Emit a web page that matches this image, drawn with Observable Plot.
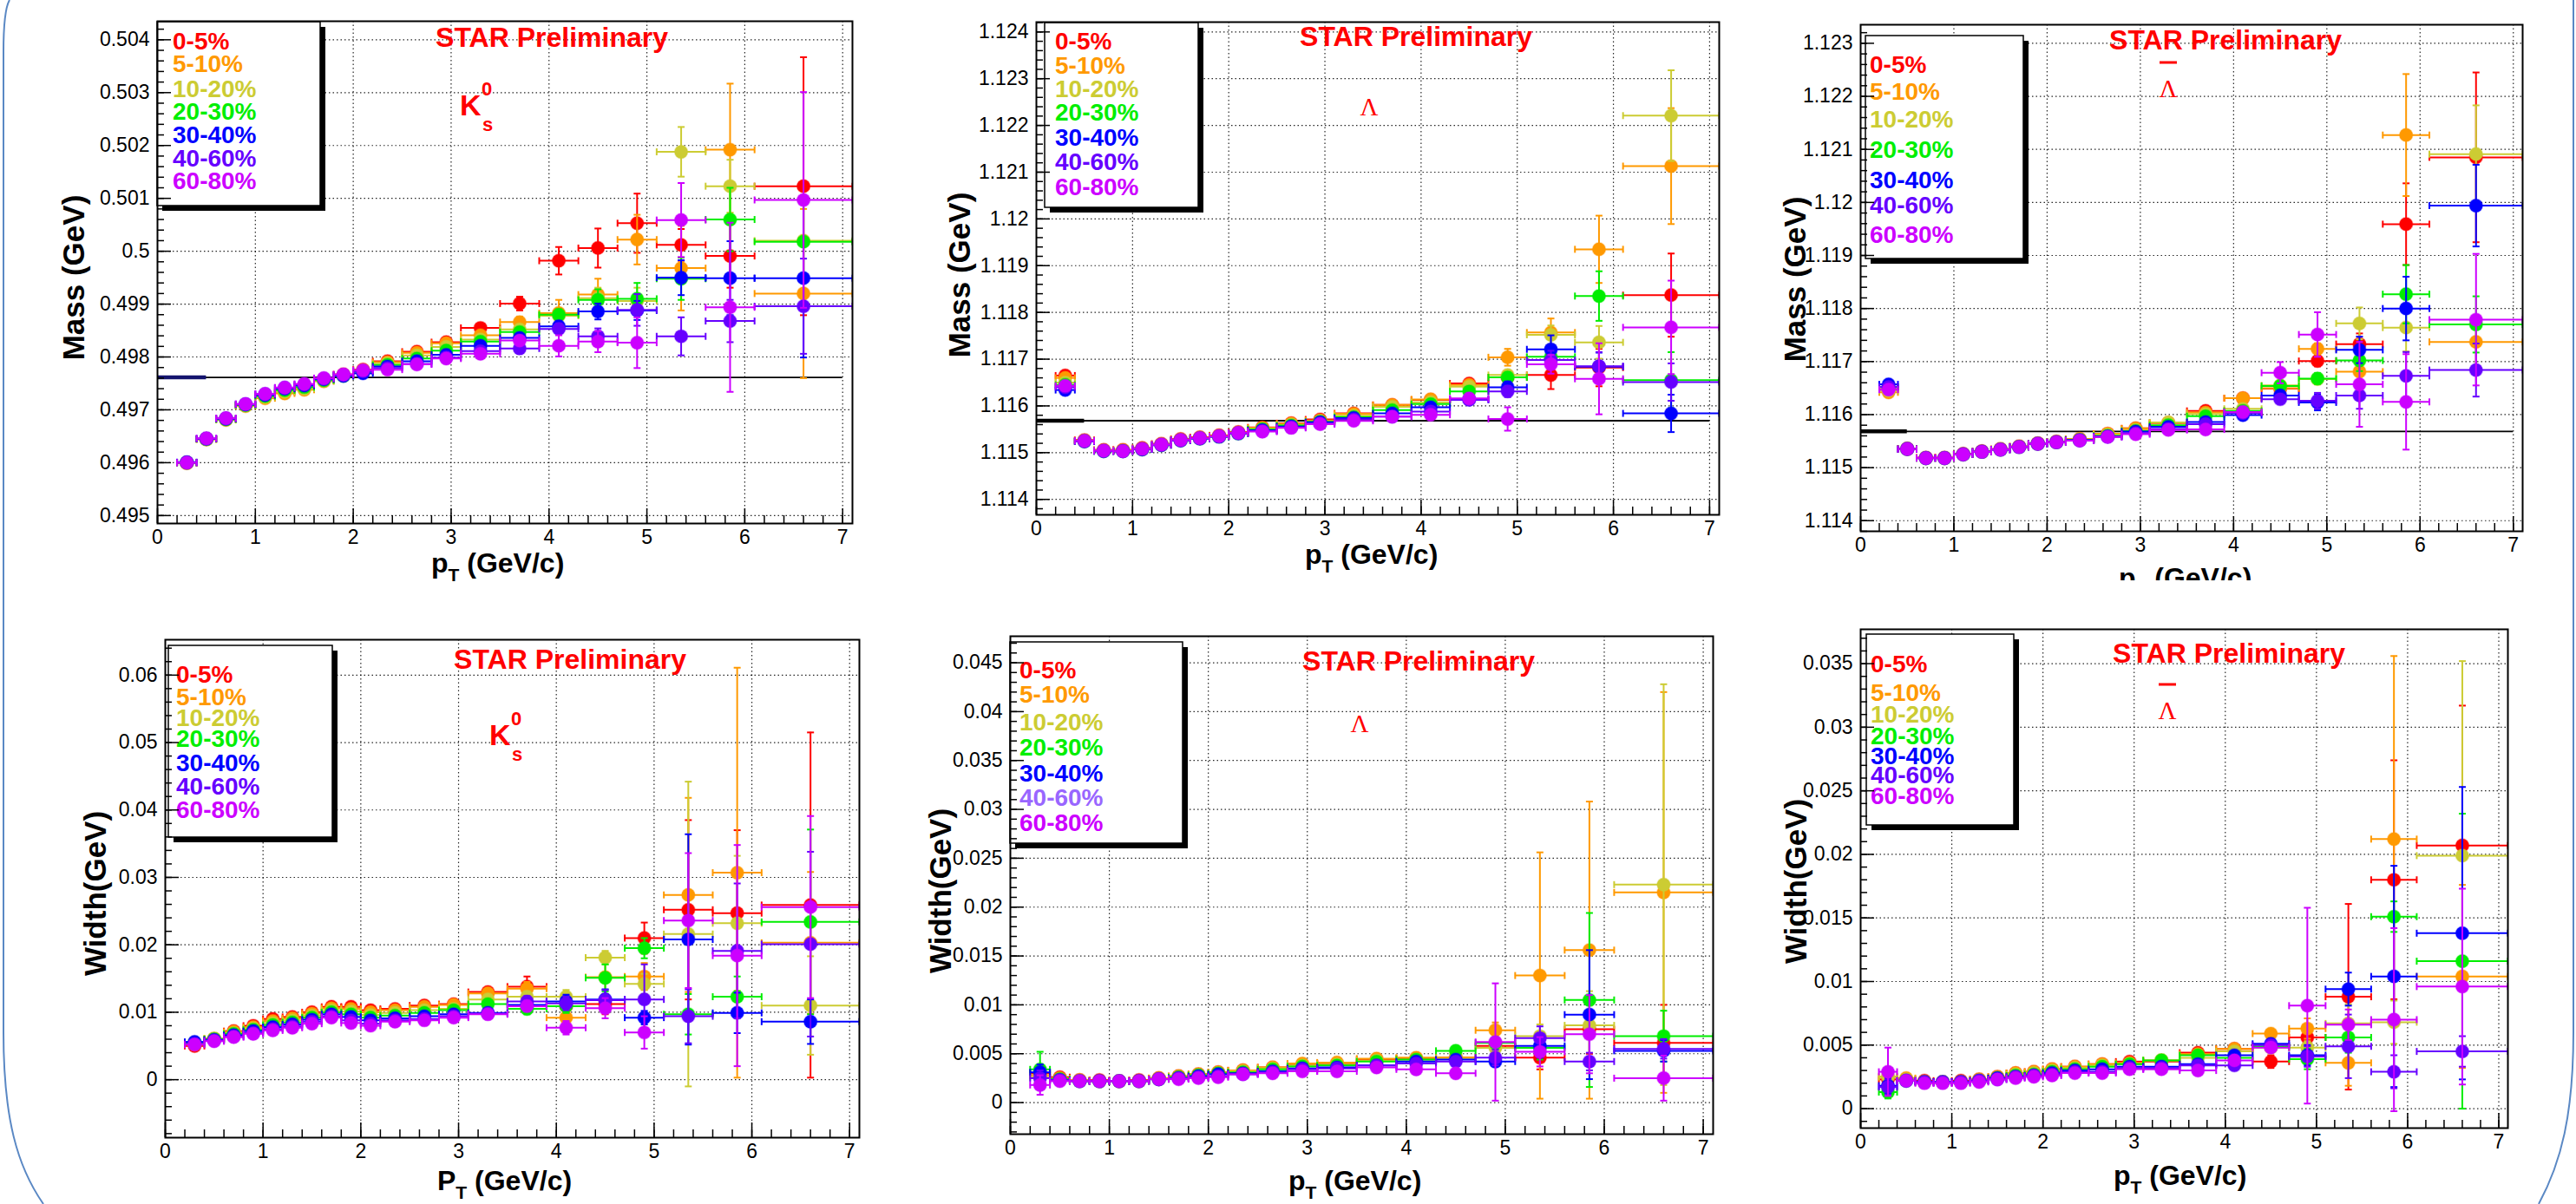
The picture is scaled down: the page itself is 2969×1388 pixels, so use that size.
<!DOCTYPE html>
<html><head><meta charset="utf-8">
<script src="https://cdn.jsdelivr.net/npm/d3@7"></script>
<script src="https://cdn.jsdelivr.net/npm/@observablehq/plot@0.6"></script>
<style>
html,body{margin:0;padding:0;background:#fff;}
#page{position:relative;width:2969px;height:1388px;overflow:hidden;background:#fff;font-family:"Liberation Sans",Arial,sans-serif;}
#page svg{display:block;}
</style></head>
<body><div id="page"></div>
<script>
// ---------------- DATA ----------------
const centralities = ["0-5%","5-10%","10-20%","20-30%","30-40%","40-60%","60-80%"];
const ptCenters = [0.3,0.5,0.7,0.9,1.1,1.3,1.5,1.7,1.9,2.1,2.35,2.65,2.95,3.3,3.7,4.1,4.5,4.9,5.35,5.85,6.6];
const ptLow     = [0.2,0.4,0.6,0.8,1.0,1.2,1.4,1.6,1.8,2.0,2.2,2.5,2.8,3.1,3.5,3.9,4.3,4.7,5.1,5.6,6.1];
const ptHigh    = [0.4,0.6,0.8,1.0,1.2,1.4,1.6,1.8,2.0,2.2,2.5,2.8,3.1,3.5,3.9,4.3,4.7,5.1,5.6,6.1,7.1];
const ptTicks = [0,1,2,3,4,5,6,7];
const k0sMassTicks = [0.495,0.496,0.497,0.498,0.499,0.500,0.501,0.502,0.503,0.504];
const lamMassTicks = [1.114,1.115,1.116,1.117,1.118,1.119,1.120,1.121,1.122,1.123,1.124];
const alamMassTicks = [1.114,1.115,1.116,1.117,1.118,1.119,1.120,1.121,1.122,1.123];
const k0sWidthTicks = [0,0.01,0.02,0.03,0.04,0.05,0.06];
const lamWidthTicks = [0,0.005,0.01,0.015,0.02,0.025,0.03,0.035,0.04,0.045];
const alamWidthTicks = [0,0.005,0.01,0.015,0.02,0.025,0.03,0.035];
const k0sPdgMass = 0.497614;
const lamPdgMass = 1.115683;
const pdgLineRange = [0, 7];
const pdgStubRange = [0, 0.5];

// K0s mass (GeV), rows = centralities
const k0sMassVal = [
 [0.49600,0.49645,0.49683,0.49709,0.49725,0.49734,0.49741,0.49757,0.49767,0.49776,0.49792,0.49810,0.49828,0.49855,0.49901,0.49982,0.50006,0.50053,0.50012,0.49991,0.50123],
 [0.49599,0.49644,0.49681,0.49707,0.49722,0.49731,0.49738,0.49754,0.49765,0.49775,0.49790,0.49808,0.49826,0.49841,0.49866,0.49883,0.49918,0.50022,0.49968,0.50192,0.49920],
 [0.49600,0.49644,0.49682,0.49708,0.49724,0.49734,0.49740,0.49755,0.49765,0.49774,0.49788,0.49803,0.49819,0.49833,0.49852,0.49878,0.49911,0.49906,0.50188,0.50123,0.50020],
 [0.49600,0.49645,0.49682,0.49709,0.49726,0.49737,0.49743,0.49756,0.49764,0.49772,0.49785,0.49797,0.49812,0.49829,0.49847,0.49880,0.49908,0.49910,0.49948,0.50060,0.50018],
 [0.49601,0.49645,0.49683,0.49710,0.49728,0.49740,0.49746,0.49758,0.49764,0.49769,0.49782,0.49792,0.49804,0.49821,0.49836,0.49858,0.49886,0.49888,0.49950,0.49949,0.49949],
 [0.49600,0.49646,0.49684,0.49711,0.49730,0.49742,0.49748,0.49759,0.49766,0.49773,0.49779,0.49787,0.49799,0.49811,0.49816,0.49853,0.49839,0.49889,0.49839,0.49868,0.49896],
 [0.49600,0.49646,0.49684,0.49711,0.49730,0.49742,0.49749,0.49760,0.49767,0.49775,0.49776,0.49786,0.49797,0.49806,0.49831,0.49821,0.49829,0.49827,0.50059,0.49894,0.50097]
];
const k0sMassErr = [
 [0.00001,0.00001,0.00001,0.00001,0.00001,0.00001,0.00001,0.00001,0.00001,0.00002,0.00002,0.00003,0.00004,0.00006,0.00013,0.00026,0.00037,0.00056,0.00030,0.00060,0.00244],
 [0.00001,0.00001,0.00001,0.00001,0.00001,0.00001,0.00001,0.00001,0.00001,0.00002,0.00002,0.00003,0.00004,0.00006,0.00010,0.00025,0.00030,0.00047,0.00080,0.00125,0.00160],
 [0.00001,0.00001,0.00001,0.00001,0.00001,0.00001,0.00001,0.00001,0.00001,0.00002,0.00002,0.00003,0.00004,0.00005,0.00008,0.00010,0.00020,0.00025,0.00047,0.00050,0.00070],
 [0.00001,0.00001,0.00001,0.00001,0.00001,0.00001,0.00001,0.00001,0.00001,0.00002,0.00002,0.00003,0.00004,0.00005,0.00008,0.00010,0.00020,0.00030,0.00040,0.00060,0.00070],
 [0.00001,0.00001,0.00001,0.00001,0.00001,0.00001,0.00001,0.00001,0.00001,0.00002,0.00002,0.00003,0.00004,0.00005,0.00008,0.00010,0.00015,0.00018,0.00033,0.00070,0.00150],
 [0.00001,0.00001,0.00001,0.00001,0.00001,0.00001,0.00001,0.00001,0.00001,0.00002,0.00002,0.00003,0.00004,0.00005,0.00008,0.00010,0.00015,0.00030,0.00036,0.00040,0.00090],
 [0.00001,0.00001,0.00001,0.00001,0.00001,0.00001,0.00001,0.00001,0.00001,0.00002,0.00002,0.00003,0.00004,0.00005,0.00008,0.00020,0.00020,0.00048,0.00070,0.00160,0.00204]
];

// Lambda mass (GeV)
const lamMassVal = [
 [1.11665,1.11527,1.11506,1.11506,1.11510,1.11519,1.11529,1.11533,1.11537,1.11544,1.11554,1.11563,1.11571,1.11584,1.11602,1.11613,1.11648,1.11661,1.11666,1.11682,1.11837],
 [1.11660,1.11526,1.11505,1.11505,1.11509,1.11518,1.11528,1.11532,1.11536,1.11543,1.11553,1.11562,1.11569,1.11583,1.11602,1.11614,1.11645,1.11704,1.11757,1.11935,1.12113],
 [1.11650,1.11525,1.11504,1.11504,1.11508,1.11517,1.11527,1.11531,1.11535,1.11542,1.11551,1.11560,1.11567,1.11579,1.11598,1.11608,1.11641,1.11666,1.11752,1.11736,1.12221],
 [1.11645,1.11524,1.11503,1.11503,1.11507,1.11516,1.11526,1.11530,1.11534,1.11541,1.11550,1.11558,1.11566,1.11576,1.11591,1.11604,1.11631,1.11661,1.11705,1.11835,1.11655],
 [1.11634,1.11524,1.11503,1.11503,1.11507,1.11516,1.11526,1.11530,1.11534,1.11541,1.11548,1.11556,1.11565,1.11574,1.11584,1.11597,1.11614,1.11640,1.11721,1.11684,1.11584],
 [1.11640,1.11525,1.11504,1.11503,1.11508,1.11517,1.11527,1.11531,1.11535,1.11542,1.11546,1.11554,1.11562,1.11571,1.11577,1.11588,1.11613,1.11631,1.11698,1.11685,1.11651],
 [1.11643,1.11525,1.11504,1.11503,1.11508,1.11517,1.11527,1.11531,1.11535,1.11542,1.11545,1.11553,1.11561,1.11568,1.11577,1.11581,1.11616,1.11572,1.11689,1.11658,1.11768]
];
const lamMassErr = [
 [0.00003,0.00001,0.00001,0.00001,0.00001,0.00001,0.00001,0.00001,0.00001,0.00001,0.00002,0.00002,0.00003,0.00004,0.00005,0.00006,0.00006,0.00010,0.00030,0.00040,0.00089],
 [0.00003,0.00001,0.00001,0.00001,0.00001,0.00001,0.00001,0.00001,0.00001,0.00001,0.00002,0.00002,0.00003,0.00004,0.00005,0.00006,0.00006,0.00018,0.00030,0.00072,0.00124],
 [0.00003,0.00001,0.00001,0.00001,0.00001,0.00001,0.00001,0.00001,0.00001,0.00001,0.00002,0.00002,0.00003,0.00004,0.00005,0.00006,0.00006,0.00010,0.00020,0.00035,0.00097],
 [0.00003,0.00001,0.00001,0.00001,0.00001,0.00001,0.00001,0.00001,0.00001,0.00001,0.00002,0.00002,0.00003,0.00004,0.00005,0.00006,0.00006,0.00010,0.00025,0.00053,0.00060],
 [0.00003,0.00001,0.00001,0.00001,0.00001,0.00001,0.00001,0.00001,0.00001,0.00001,0.00002,0.00002,0.00003,0.00004,0.00005,0.00006,0.00007,0.00012,0.00030,0.00030,0.00040],
 [0.00003,0.00001,0.00001,0.00001,0.00001,0.00001,0.00001,0.00001,0.00001,0.00001,0.00002,0.00002,0.00003,0.00004,0.00005,0.00006,0.00007,0.00012,0.00020,0.00030,0.00040],
 [0.00003,0.00001,0.00001,0.00001,0.00001,0.00001,0.00001,0.00001,0.00001,0.00001,0.00002,0.00002,0.00003,0.00004,0.00005,0.00006,0.00007,0.00025,0.00020,0.00076,0.00100]
];

// anti-Lambda mass (GeV)
const alamMassVal = [
 [1.11648,1.11536,1.11519,1.11519,1.11526,1.11531,1.11535,1.11540,1.11546,1.11549,1.11554,1.11564,1.11574,1.11584,1.11607,1.11631,1.11649,1.11701,1.11733,1.11959,1.12085],
 [1.11642,1.11535,1.11518,1.11518,1.11525,1.11530,1.11535,1.11540,1.11546,1.11549,1.11554,1.11564,1.11574,1.11585,1.11604,1.11631,1.11650,1.11724,1.11681,1.12127,1.11737],
 [1.11645,1.11535,1.11518,1.11518,1.11525,1.11530,1.11534,1.11539,1.11545,1.11548,1.11553,1.11562,1.11571,1.11585,1.11601,1.11611,1.11655,1.11667,1.11772,1.11764,1.12091],
 [1.11652,1.11535,1.11518,1.11518,1.11525,1.11530,1.11534,1.11539,1.11545,1.11548,1.11552,1.11560,1.11569,1.11580,1.11597,1.11607,1.11654,1.11668,1.11702,1.11827,1.11770],
 [1.11657,1.11535,1.11518,1.11518,1.11525,1.11530,1.11534,1.11539,1.11545,1.11548,1.11552,1.11559,1.11568,1.11577,1.11586,1.11599,1.11636,1.11623,1.11722,1.11800,1.11994],
 [1.11652,1.11535,1.11518,1.11518,1.11525,1.11530,1.11534,1.11539,1.11545,1.11548,1.11551,1.11558,1.11565,1.11573,1.11582,1.11603,1.11629,1.11626,1.11636,1.11673,1.11684],
 [1.11647,1.11535,1.11518,1.11518,1.11525,1.11530,1.11534,1.11539,1.11545,1.11548,1.11551,1.11558,1.11563,1.11571,1.11572,1.11605,1.11679,1.11751,1.11657,1.11624,1.11779]
];
const alamMassErr = [
 [0.00003,0.00001,0.00001,0.00001,0.00001,0.00001,0.00001,0.00001,0.00001,0.00001,0.00002,0.00002,0.00003,0.00004,0.00005,0.00005,0.00005,0.00010,0.00020,0.00077,0.00160],
 [0.00003,0.00001,0.00001,0.00001,0.00001,0.00001,0.00001,0.00001,0.00001,0.00001,0.00002,0.00002,0.00003,0.00004,0.00005,0.00005,0.00006,0.00010,0.00020,0.00115,0.00050],
 [0.00003,0.00001,0.00001,0.00001,0.00001,0.00001,0.00001,0.00001,0.00001,0.00001,0.00002,0.00002,0.00003,0.00004,0.00005,0.00006,0.00006,0.00010,0.00030,0.00045,0.00092],
 [0.00003,0.00001,0.00001,0.00001,0.00001,0.00001,0.00001,0.00001,0.00001,0.00001,0.00002,0.00002,0.00003,0.00004,0.00005,0.00006,0.00006,0.00010,0.00020,0.00055,0.00053],
 [0.00003,0.00001,0.00001,0.00001,0.00001,0.00001,0.00001,0.00001,0.00001,0.00001,0.00002,0.00002,0.00003,0.00004,0.00005,0.00006,0.00007,0.00015,0.00025,0.00060,0.00077],
 [0.00003,0.00001,0.00001,0.00001,0.00001,0.00001,0.00001,0.00001,0.00001,0.00001,0.00002,0.00002,0.00003,0.00004,0.00005,0.00006,0.00007,0.00015,0.00025,0.00045,0.00050],
 [0.00003,0.00001,0.00001,0.00001,0.00001,0.00001,0.00001,0.00001,0.00001,0.00001,0.00002,0.00002,0.00003,0.00004,0.00005,0.00006,0.00020,0.00042,0.00080,0.00090,0.00124]
];

// K0s width (GeV)
const k0sWidthVal = [
 [0.0050,0.0060,0.0072,0.0080,0.0090,0.0093,0.0100,0.0108,0.0108,0.0103,0.0105,0.0110,0.0112,0.0130,0.0138,0.0109,0.0112,0.0210,0.0252,0.0247,0.0259],
 [0.0052,0.0061,0.0071,0.0078,0.0087,0.0091,0.0098,0.0106,0.0105,0.0100,0.0103,0.0108,0.0111,0.0128,0.0135,0.0092,0.0152,0.0153,0.0274,0.0307,0.0203],
 [0.0054,0.0061,0.0069,0.0076,0.0084,0.0088,0.0095,0.0103,0.0101,0.0096,0.0099,0.0103,0.0105,0.0119,0.0123,0.0123,0.0181,0.0142,0.0216,0.0232,0.0110],
 [0.0055,0.0060,0.0068,0.0074,0.0081,0.0085,0.0092,0.0100,0.0097,0.0092,0.0095,0.0099,0.0103,0.0112,0.0105,0.0109,0.0151,0.0195,0.0097,0.0123,0.0234],
 [0.0056,0.0059,0.0066,0.0072,0.0078,0.0082,0.0089,0.0097,0.0093,0.0088,0.0091,0.0094,0.0097,0.0099,0.0111,0.0116,0.0119,0.0092,0.0208,0.0099,0.0086],
 [0.0053,0.0058,0.0064,0.0069,0.0075,0.0079,0.0086,0.0094,0.0088,0.0083,0.0088,0.0090,0.0094,0.0098,0.0116,0.0113,0.0118,0.0119,0.0094,0.0191,0.0201],
 [0.0052,0.0057,0.0063,0.0068,0.0073,0.0077,0.0083,0.0092,0.0084,0.0080,0.0086,0.0088,0.0092,0.0097,0.0109,0.0077,0.0106,0.0070,0.0236,0.0184,0.0256]
];
const k0sWidthErr = [
 [0.0002,0.0002,0.0002,0.0002,0.0002,0.0002,0.0002,0.0002,0.0002,0.0002,0.0003,0.0003,0.0004,0.0005,0.0015,0.0015,0.0015,0.0023,0.0133,0.0123,0.0256],
 [0.0002,0.0002,0.0002,0.0002,0.0002,0.0002,0.0002,0.0002,0.0002,0.0002,0.0003,0.0003,0.0004,0.0005,0.0010,0.0015,0.0025,0.0020,0.0144,0.0304,0.0105],
 [0.0002,0.0002,0.0002,0.0002,0.0002,0.0002,0.0002,0.0002,0.0002,0.0002,0.0003,0.0003,0.0004,0.0005,0.0008,0.0010,0.0010,0.0015,0.0226,0.0100,0.0073],
 [0.0002,0.0002,0.0002,0.0002,0.0002,0.0002,0.0002,0.0002,0.0002,0.0002,0.0003,0.0003,0.0004,0.0005,0.0008,0.0010,0.0020,0.0015,0.0030,0.0030,0.0137],
 [0.0002,0.0002,0.0002,0.0002,0.0002,0.0002,0.0002,0.0002,0.0002,0.0002,0.0003,0.0003,0.0004,0.0005,0.0008,0.0010,0.0015,0.0010,0.0156,0.0030,0.0033],
 [0.0002,0.0002,0.0002,0.0002,0.0002,0.0002,0.0002,0.0002,0.0002,0.0002,0.0003,0.0003,0.0004,0.0005,0.0008,0.0010,0.0015,0.0052,0.0040,0.0100,0.0137],
 [0.0002,0.0002,0.0002,0.0002,0.0002,0.0002,0.0002,0.0002,0.0002,0.0002,0.0003,0.0003,0.0004,0.0005,0.0008,0.0010,0.0015,0.0024,0.0100,0.0164,0.0135]
];

// Lambda width (GeV)
const lamWidthVal = [
 [0.0030,0.0026,0.0023,0.0023,0.0022,0.0023,0.0025,0.0027,0.0029,0.0031,0.0033,0.0036,0.0039,0.0040,0.0044,0.0045,0.0046,0.0058,0.0046,0.0075,0.0061],
 [0.0028,0.0025,0.0023,0.0022,0.0022,0.0022,0.0025,0.0027,0.0029,0.0031,0.0033,0.0036,0.0040,0.0041,0.0045,0.0046,0.0046,0.0074,0.0130,0.0156,0.0215],
 [0.0026,0.0024,0.0022,0.0022,0.0022,0.0022,0.0024,0.0026,0.0028,0.0030,0.0032,0.0035,0.0038,0.0039,0.0043,0.0044,0.0045,0.0056,0.0068,0.0079,0.0223],
 [0.0034,0.0024,0.0022,0.0022,0.0022,0.0022,0.0024,0.0026,0.0028,0.0030,0.0031,0.0034,0.0037,0.0038,0.0042,0.0044,0.0053,0.0061,0.0056,0.0105,0.0068],
 [0.0031,0.0023,0.0022,0.0022,0.0022,0.0022,0.0024,0.0025,0.0027,0.0029,0.0030,0.0032,0.0035,0.0036,0.0038,0.0042,0.0044,0.0042,0.0058,0.0090,0.0053],
 [0.0025,0.0023,0.0022,0.0022,0.0022,0.0022,0.0024,0.0025,0.0026,0.0027,0.0029,0.0031,0.0034,0.0035,0.0038,0.0040,0.0042,0.0046,0.0066,0.0042,0.0055],
 [0.0018,0.0022,0.0022,0.0022,0.0022,0.0022,0.0024,0.0024,0.0025,0.0026,0.0029,0.0030,0.0032,0.0032,0.0036,0.0034,0.0030,0.0062,0.0052,0.0070,0.0025]
];
const lamWidthErr = [
 [0.0008,0.0002,0.0001,0.0001,0.0001,0.0001,0.0001,0.0001,0.0001,0.0001,0.0001,0.0001,0.0002,0.0002,0.0002,0.0002,0.0003,0.0005,0.0012,0.0025,0.0039],
 [0.0008,0.0002,0.0001,0.0001,0.0001,0.0001,0.0001,0.0001,0.0001,0.0001,0.0001,0.0001,0.0002,0.0002,0.0002,0.0002,0.0003,0.0008,0.0126,0.0152,0.0205],
 [0.0008,0.0002,0.0001,0.0001,0.0001,0.0001,0.0001,0.0001,0.0001,0.0001,0.0001,0.0001,0.0002,0.0002,0.0002,0.0002,0.0003,0.0006,0.0012,0.0035,0.0205],
 [0.0018,0.0002,0.0001,0.0001,0.0001,0.0001,0.0001,0.0001,0.0001,0.0001,0.0001,0.0001,0.0002,0.0002,0.0002,0.0002,0.0003,0.0006,0.0012,0.0089,0.0026],
 [0.0008,0.0002,0.0001,0.0001,0.0001,0.0001,0.0001,0.0001,0.0001,0.0001,0.0001,0.0001,0.0002,0.0002,0.0002,0.0002,0.0003,0.0005,0.0012,0.0066,0.0011],
 [0.0008,0.0002,0.0001,0.0001,0.0001,0.0001,0.0001,0.0001,0.0001,0.0001,0.0001,0.0001,0.0002,0.0002,0.0002,0.0002,0.0003,0.0008,0.0012,0.0009,0.0010],
 [0.0010,0.0002,0.0001,0.0001,0.0001,0.0001,0.0001,0.0001,0.0001,0.0001,0.0001,0.0001,0.0002,0.0002,0.0002,0.0002,0.0004,0.0060,0.0015,0.0040,0.0023]
];

// anti-Lambda width (GeV)
const alamWidthVal = [
 [0.0023,0.0023,0.0022,0.0021,0.0022,0.0023,0.0025,0.0028,0.0029,0.0031,0.0033,0.0035,0.0037,0.0037,0.0044,0.0047,0.0037,0.0056,0.0088,0.0180,0.0207],
 [0.0025,0.0024,0.0021,0.0021,0.0021,0.0023,0.0025,0.0028,0.0029,0.0031,0.0033,0.0035,0.0036,0.0038,0.0043,0.0047,0.0059,0.0063,0.0036,0.0212,0.0104],
 [0.0025,0.0023,0.0021,0.0021,0.0021,0.0022,0.0024,0.0027,0.0028,0.0030,0.0032,0.0034,0.0035,0.0038,0.0040,0.0045,0.0048,0.0048,0.0067,0.0068,0.0199],
 [0.0013,0.0022,0.0021,0.0021,0.0021,0.0022,0.0024,0.0026,0.0027,0.0029,0.0031,0.0033,0.0035,0.0038,0.0042,0.0040,0.0049,0.0039,0.0056,0.0151,0.0116],
 [0.0018,0.0022,0.0021,0.0021,0.0021,0.0022,0.0024,0.0025,0.0026,0.0028,0.0030,0.0031,0.0033,0.0033,0.0035,0.0042,0.0051,0.0042,0.0094,0.0104,0.0138],
 [0.0017,0.0022,0.0021,0.0021,0.0021,0.0022,0.0023,0.0025,0.0026,0.0027,0.0029,0.0029,0.0032,0.0032,0.0034,0.0034,0.0050,0.0041,0.0049,0.0029,0.0045],
 [0.0029,0.0022,0.0020,0.0020,0.0020,0.0021,0.0023,0.0024,0.0025,0.0026,0.0028,0.0028,0.0031,0.0031,0.0030,0.0038,0.0048,0.0081,0.0066,0.0070,0.0096]
];
const alamWidthErr = [
 [0.0005,0.0002,0.0001,0.0001,0.0001,0.0001,0.0001,0.0001,0.0001,0.0001,0.0001,0.0001,0.0002,0.0002,0.0002,0.0002,0.0005,0.0005,0.0073,0.0094,0.0110],
 [0.0005,0.0002,0.0001,0.0001,0.0001,0.0001,0.0001,0.0001,0.0001,0.0001,0.0001,0.0001,0.0002,0.0002,0.0002,0.0002,0.0003,0.0008,0.0018,0.0144,0.0072],
 [0.0005,0.0002,0.0001,0.0001,0.0001,0.0001,0.0001,0.0001,0.0001,0.0001,0.0001,0.0001,0.0002,0.0002,0.0002,0.0002,0.0003,0.0005,0.0015,0.0017,0.0153],
 [0.0005,0.0002,0.0001,0.0001,0.0001,0.0001,0.0001,0.0001,0.0001,0.0001,0.0001,0.0001,0.0002,0.0002,0.0002,0.0002,0.0003,0.0008,0.0012,0.0012,0.0116],
 [0.0006,0.0002,0.0001,0.0001,0.0001,0.0001,0.0001,0.0001,0.0001,0.0001,0.0001,0.0001,0.0002,0.0002,0.0002,0.0002,0.0003,0.0008,0.0013,0.0087,0.0115],
 [0.0006,0.0002,0.0001,0.0001,0.0001,0.0001,0.0001,0.0001,0.0001,0.0001,0.0001,0.0001,0.0002,0.0002,0.0002,0.0002,0.0003,0.0008,0.0025,0.0013,0.0012],
 [0.0019,0.0002,0.0001,0.0001,0.0001,0.0001,0.0001,0.0001,0.0001,0.0001,0.0001,0.0001,0.0002,0.0002,0.0002,0.0002,0.0003,0.0077,0.0012,0.0072,0.0077]
];

// ---------------- STYLE ----------------
const colors = ["#ff0000","#ff9900","#cccc33","#00ee00","#0000ff","#6600ff","#cc00ff"];
const xDomain = [0, 7.1];
const hCap = {draw(ctx, size){ const r = Math.sqrt(size/Math.PI); ctx.moveTo(-r,0); ctx.lineTo(r,0); }};
const vCap = {draw(ctx, size){ const r = Math.sqrt(size/Math.PI); ctx.moveTo(0,-r); ctx.lineTo(0,r); }};
const fmt = d => String(+d.toFixed(4));

const panels = [
 {vals:k0sMassVal, errs:k0sMassErr, ticks:k0sMassTicks, minor:0.0002, frame:[181,24,982,603], yDomain:[0.49485,0.50435], pdg:k0sPdgMass, stub:"#14146e"},
 {vals:lamMassVal, errs:lamMassErr, ticks:lamMassTicks, minor:0.0002, frame:[1194,25,1981,593], yDomain:[1.11367,1.12421], pdg:lamPdgMass, stub:"#000"},
 {vals:alamMassVal, errs:alamMassErr, ticks:alamMassTicks, minor:0.0002, frame:[2144,28,2907,612], yDomain:[1.11380,1.12335], pdg:lamPdgMass, stub:"#000"},
 {vals:k0sWidthVal, errs:k0sWidthErr, ticks:k0sWidthTicks, minor:0.002, frame:[190,737,990,1311], yDomain:[-0.0086,0.06525]},
 {vals:lamWidthVal, errs:lamWidthErr, ticks:lamWidthTicks, minor:0.001, frame:[1164,733,1974,1307], yDomain:[-0.00323,0.04771]},
 {vals:alamWidthVal, errs:alamWidthErr, ticks:alamWidthTicks, minor:0.001, frame:[2144,725,2890,1300], yDomain:[-0.00153,0.0377]}
];

const page = document.getElementById("page");
const ML = 85, MR = 6, MT = 6, MB = 45;
function place(node, left, top, w, h){
  const div = document.createElement("div");
  div.style.cssText = `position:absolute;left:${left}px;top:${top}px;width:${w}px;height:${h}px;`;
  div.appendChild(node); page.appendChild(div);
}
const plotStyle = {background:"none", maxWidth:"none", overflow:"visible", fontFamily:"'Liberation Sans', Arial, sans-serif", fontSize:"23px", color:"#000"};

// background decoration (slide border)
const bg = d3.select(page).append("svg").attr("width",2969).attr("height",1388).style("position","absolute").style("left","0px").style("top","0px");
bg.append("path").attr("d","M 11 0 Q 4 12 4 60 L 4 1190 C 4 1290 20 1345 50 1388").attr("fill","none").attr("stroke","#5a88c4").attr("stroke-width",2);
bg.append("path").attr("d","M 2966 0 L 2966 1190 C 2966 1285 2952 1340 2926 1388").attr("fill","none").attr("stroke","#5a88c4").attr("stroke-width",2);

const geo = [];
// base plots: grid, labels, data
panels.forEach((p) => {
  const [fx0, fy0, fx1, fy1] = p.frame;
  const W = fx1 - fx0 + ML + MR, H = fy1 - fy0 + MT + MB;
  geo.push({W, H, left: fx0 - ML, top: fy0 - MT});
  const marks = [
    Plot.gridX(ptTicks.filter(t => t > 0), {stroke:"#000", strokeOpacity:0.85, strokeWidth:1.2, strokeDasharray:"1.5,3"}),
    Plot.gridY(p.ticks, {stroke:"#000", strokeOpacity:0.85, strokeWidth:1.2, strokeDasharray:"1.5,3"}),
    Plot.axisX(ptTicks, {anchor:"bottom", tickSize:0, tickPadding:7, tickFormat: d => String(d), label:null}),
    Plot.axisY(p.ticks, {anchor:"left", tickSize:0, tickPadding:9, tickFormat: fmt, label:null})
  ];
  if (p.pdg !== undefined) {
    marks.push(Plot.ruleY([p.pdg], {x1: pdgLineRange[0], x2: pdgLineRange[1], stroke:"#000", strokeWidth:1.8}));
    marks.push(Plot.ruleY([p.pdg], {x1: pdgStubRange[0], x2: pdgStubRange[1], stroke:p.stub, strokeWidth:4.5}));
  }
  for (let s = 0; s < centralities.length; s++) {
    const d = ptCenters.map((x, i) => ({x, lo: ptLow[i], hi: ptHigh[i], v: p.vals[s][i], e: p.errs[s][i]}));
    const c = colors[s];
    marks.push(
      Plot.ruleY(d, {y:"v", x1:"lo", x2:"hi", stroke:c, strokeWidth:2, clip:true}),
      Plot.ruleX(d, {x:"x", y1: r => r.v - r.e, y2: r => r.v + r.e, stroke:c, strokeWidth:2, clip:true}),
      Plot.dot(d, {x:"x", y: r => r.v + r.e, symbol:hCap, r:4, stroke:c, strokeWidth:2, fill:"none", clip:true}),
      Plot.dot(d, {x:"x", y: r => r.v - r.e, symbol:hCap, r:4, stroke:c, strokeWidth:2, fill:"none", clip:true}),
      Plot.dot(d, {x:"lo", y:"v", symbol:vCap, r:4, stroke:c, strokeWidth:2, fill:"none", clip:true}),
      Plot.dot(d, {x:"hi", y:"v", symbol:vCap, r:4, stroke:c, strokeWidth:2, fill:"none", clip:true}),
      Plot.dot(d, {x:"x", y:"v", r:7.6, fill:c, stroke:c, strokeOpacity:0.35, strokeWidth:1.5, clip:true})
    );
  }
  const svg = Plot.plot({
    width: W, height: H, marginLeft: ML, marginRight: MR, marginTop: MT, marginBottom: MB,
    x: {domain: xDomain}, y: {domain: p.yDomain}, style: plotStyle, marks
  });
  place(svg, fx0 - ML, fy0 - MT, W, H);
});

// labels layer
const L = d3.select(page).append("svg").attr("width",2969).attr("height",1388).style("position","absolute").style("left","0px").style("top","0px")
  .style("font-family","'Liberation Sans', Arial, sans-serif");
L.append("clipPath").attr("id","cutP3").append("rect").attr("x",2300).attr("y",600).attr("width",400).attr("height",69);

const legends = [
 {box:[181,25,369,237], tx:199, cy:[47,73,102,128,155,182,208], cols:colors},
 {box:[1204,26,1381,239], tx:1216, cy:[47,75,102,129,158,186,215], cols:colors},
 {box:[2150,41,2332,298], tx:2155, cy:[74,105,137,172,207,236,270], cols:colors},
 {box:[194,744,383,965], tx:203, cy:[777,803,827,851,879,906,933], cols:colors},
 {box:[1164,740,1363,972], tx:1175, cy:[772,800,832,861,891,919,948], cols:["#ff0000","#ff9900","#cccc33","#00ee00","#0000ff","#9966ff","#cc00ff"]},
 {box:[2151,731,2321,951], tx:2156, cy:[765,798,823,848,871,893,917], cols:colors}
];
legends.forEach(lg => {
  const [x0,y0,x1,y1] = lg.box;
  L.append("rect").attr("x",x0+6).attr("y",y0+6).attr("width",x1-x0).attr("height",y1-y0).attr("fill","#000");
  L.append("rect").attr("x",x0).attr("y",y0).attr("width",x1-x0).attr("height",y1-y0).attr("fill","#fff").attr("stroke","#000").attr("stroke-width",1.5);
  centralities.forEach((t,i) => {
    L.append("text").attr("x",lg.tx).attr("y",lg.cy[i]+10).attr("font-size",28).attr("font-weight","bold").attr("fill",lg.cols[i]).text(t);
  });
});

// STAR Preliminary
[[636,54],[1632,53],[2565,57],[657,771],[1635,773],[2569,764]].forEach(([x,y]) => {
  L.append("text").attr("x",x).attr("y",y).attr("text-anchor","middle").attr("font-size",32).attr("font-weight","bold").attr("fill","#ff0000").text("STAR Preliminary");
});
// K0s labels
[[530,133],[564,859]].forEach(([x,y]) => {
  L.append("text").attr("x",x).attr("y",y).attr("font-size",34).attr("font-weight","bold").attr("fill","#ff0000").text("K");
  L.append("text").attr("x",x+25).attr("y",y-23).attr("font-size",22).attr("font-weight","bold").attr("fill","#ff0000").text("0");
  L.append("text").attr("x",x+26).attr("y",y+18).attr("font-size",22).attr("font-weight","bold").attr("fill","#ff0000").text("s");
});
// Lambda labels
[[1578,133],[1567,844]].forEach(([x,y]) => {
  L.append("text").attr("x",x).attr("y",y).attr("text-anchor","middle").attr("font-family","'Liberation Serif', 'Times New Roman', serif").attr("font-size",29).attr("fill","#ff0000").text("Λ");
});
// anti-Lambda labels
[[2499,112,72],[2498,829,789]].forEach(([x,y,by]) => {
  L.append("text").attr("x",x).attr("y",y).attr("text-anchor","middle").attr("font-family","'Liberation Serif', 'Times New Roman', serif").attr("font-size",29).attr("fill","#ff0000").text("Λ");
  L.append("rect").attr("x",x-10).attr("y",by-1.5).attr("width",20).attr("height",3).attr("fill","#ff0000");
});
// y-axis titles
[["Mass (GeV)",84,320],["Mass (GeV)",1105,317],["Mass (GeV)",2068,322],["Width(GeV)",109,1030],["Width(GeV)",1083,1027],["Width(GeV)",2069,1016]].forEach(([t,x,y]) => {
  L.append("text").attr("transform",`translate(${x},${y}) rotate(-90)`).attr("text-anchor","middle").attr("dy","0.36em")
    .attr("font-size",35).attr("font-weight","bold").attr("fill","#000").text(t);
});
// x-axis titles
[["p",497,660,null],["p",1504,650,null],["p",2442,677,"url(#cutP3)"],["P",504,1372,null],["p",1485,1372,null],["p",2436,1366,null]].forEach(([t,x,y,clip]) => {
  const tx = L.append("text").attr("x",x).attr("y",y).attr("font-size",32).attr("font-weight","bold").attr("fill","#000");
  if (clip) tx.attr("clip-path",clip);
  tx.append("tspan").text(t);
  tx.append("tspan").attr("dy",10).attr("font-size",21).text("T");
  tx.append("tspan").attr("dy",-10).text(" (GeV/c)");
});

// overlay: frame and inward ticks (drawn above legends)
panels.forEach((p, k) => {
  const [fx0, fy0, fx1, fy1] = p.frame;
  const g = geo[k];
  const pxX = (fx1 - fx0) / (xDomain[1] - xDomain[0]);
  const pxY = (fy1 - fy0) / (p.yDomain[1] - p.yDomain[0]);
  const t0 = p.ticks[0];
  const yMinor = d3.range(Math.ceil((p.yDomain[0] - t0) / p.minor), Math.floor((p.yDomain[1] - t0) / p.minor) + 1).map(i => t0 + i * p.minor);
  const xMinor = d3.range(0, 36).map(i => i * 0.2).filter(v => v <= xDomain[1]);
  const yb = p.yDomain[0];
  const svg = Plot.plot({
    width: g.W, height: g.H, marginLeft: ML, marginRight: MR, marginTop: MT, marginBottom: MB,
    x: {domain: xDomain, axis: null}, y: {domain: p.yDomain, axis: null}, style: plotStyle,
    marks: [
      Plot.ruleY(yMinor, {y: d => d, x1: 0, x2: 8 / pxX, stroke:"#000", strokeWidth:1.5}),
      Plot.ruleY(p.ticks, {y: d => d, x1: 0, x2: 16 / pxX, stroke:"#000", strokeWidth:1.5}),
      Plot.ruleX(xMinor, {x: d => d, y1: yb, y2: yb + 9 / pxY, stroke:"#000", strokeWidth:1.5}),
      Plot.ruleX(ptTicks, {x: d => d, y1: yb, y2: yb + 17 / pxY, stroke:"#000", strokeWidth:1.5}),
      Plot.frame({stroke:"#000", strokeWidth:2})
    ]
  });
  place(svg, g.left, g.top, g.W, g.H);
});
</script>
</body></html>
